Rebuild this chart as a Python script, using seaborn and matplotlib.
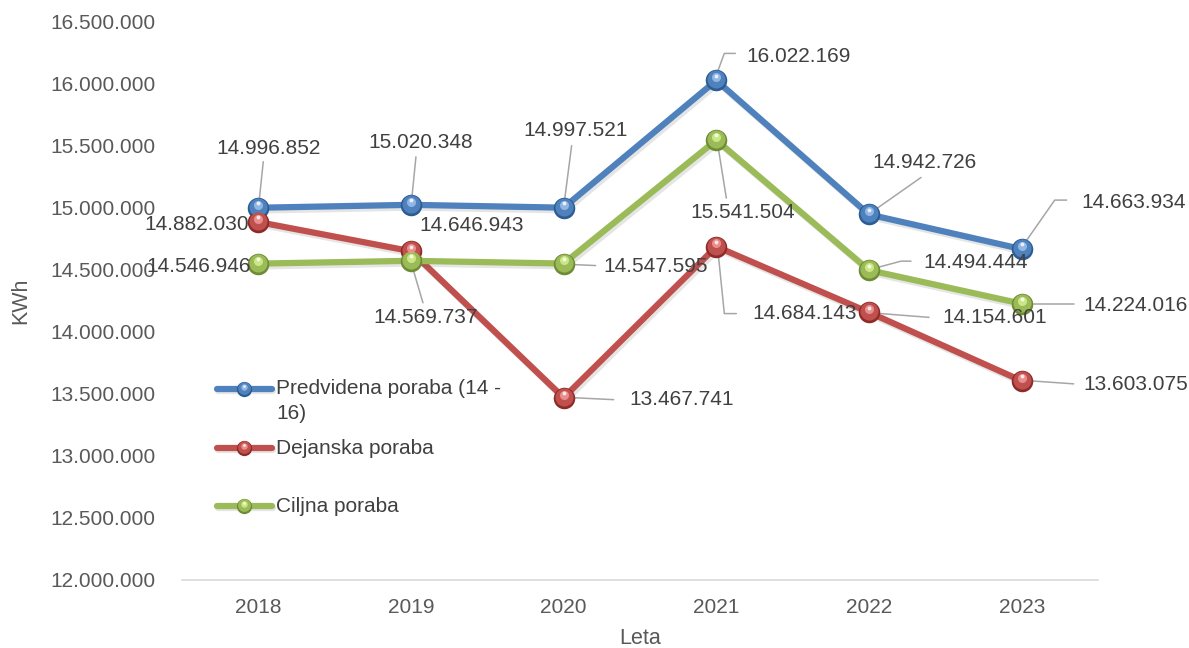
import numpy as np
import pandas as pd
import matplotlib
matplotlib.use("Agg")
import matplotlib.pyplot as plt
import matplotlib.patheffects as pe
from matplotlib.transforms import offset_copy, IdentityTransform
import seaborn as sns

# ---- data ----
years = [2018, 2019, 2020, 2021, 2022, 2023]
predvidena = [14996852, 15020348, 14997521, 16022169, 14942726, 14663934]
dejanska = [14882030, 14646943, 13467741, 14684143, 14154601, 13603075]
ciljna = [14546946, 14569737, 14547595, 15541504, 14494444, 14224016]
series_names = ["Predvidena poraba (14 - 16)", "Dejanska poraba", "Ciljna poraba"]
y_ticks = [12000000, 12500000, 13000000, 13500000, 14000000,
           14500000, 15000000, 15500000, 16000000, 16500000]

# ---- style ----
sns.set_theme(style="white")
plt.rcParams["font.family"] = ["Liberation Sans", "DejaVu Sans"]

colors = {
    series_names[0]: "#4F81BD",
    series_names[1]: "#C0504D",
    series_names[2]: "#9BBB59",
}
dark = {
    series_names[0]: "#2B5C94",
    series_names[1]: "#8E2A28",
    series_names[2]: "#6E8C33",
}
light = {
    series_names[0]: "#9CC0EA",
    series_names[1]: "#F09A98",
    series_names[2]: "#D4F08C",
}
text_col = "#404040"
tick_col = "#595959"
leader_col = "#A6A6A6"
FS = 15

df = pd.DataFrame({
    "Leto": years * 3,
    "KWh": predvidena + dejanska + ciljna,
    "Serija": [series_names[0]] * 6 + [series_names[1]] * 6 + [series_names[2]] * 6,
})

fig = plt.figure(figsize=(11.89, 6.48), dpi=100)
ax = fig.add_axes([0.153, 0.105, 0.7705, 0.8625])

sns.lineplot(data=df, x="Leto", y="KWh", hue="Serija", palette=colors,
             linewidth=4.5, legend=False, sort=False, ax=ax,
             path_effects=[pe.SimpleLineShadow(offset=(1.5, -2), alpha=0.15,
                                               shadow_color="#555555"),
                           pe.Normal()])

ax.set_xlim(years[0] - 0.5, years[-1] + 0.5)
ax.set_ylim(y_ticks[0], y_ticks[-1])
ax.set_yticks(y_ticks)
ax.set_yticklabels([f"{v:,}".replace(",", ".") for v in y_ticks])
ax.set_xticks(years)
ax.set_xticklabels([str(y) for y in years])
ax.tick_params(axis="y", length=0, pad=19, labelsize=FS, labelcolor=tick_col)
ax.tick_params(axis="x", length=0, pad=13, labelsize=FS, labelcolor=tick_col)
for s in ["top", "right", "left"]:
    ax.spines[s].set_visible(False)
ax.spines["bottom"].set_color("#D9D9D9")
ax.spines["bottom"].set_linewidth(1.2)
ax.set_xlabel("Leta", fontsize=FS + 0.5, color=tick_col, labelpad=8)
ax.set_ylabel("KWh", fontsize=FS + 0.5, color=tick_col, labelpad=14)


def sphere(xs, ys, name, transform, ms=15.5, zorder=5):
    ax.plot(xs, ys, "o", ms=ms, color=dark[name], mec="none",
            transform=transform, zorder=zorder, clip_on=False)
    t1 = offset_copy(transform, fig=fig, x=0, y=1.0, units="dots")
    ax.plot(xs, ys, "o", ms=ms * 0.84, color=colors[name], mec="none",
            transform=t1, zorder=zorder + 0.1, clip_on=False)
    t2 = offset_copy(transform, fig=fig, x=0, y=ms * 0.2, units="dots")
    ax.plot(xs, ys, "o", ms=ms * 0.42, color=light[name], mec="none", alpha=0.85,
            transform=t2, zorder=zorder + 0.2, clip_on=False)
    t3 = offset_copy(transform, fig=fig, x=0, y=ms * 0.3, units="dots")
    ax.plot(xs, ys, "o", ms=ms * 0.18, color="white", mec="none", alpha=0.8,
            transform=t3, zorder=zorder + 0.3, clip_on=False)


values = {series_names[0]: predvidena, series_names[1]: dejanska,
          series_names[2]: ciljna}
for name in series_names:
    sphere(years, values[name], name, ax.transData)

# label offsets in pixels (dx right, dy down) and leader polylines
label_layout = {
    series_names[0]: [
        ((10, -59), [(1, -8), (5, -46)]),
        ((10, -62), [(1, -8), (5, -48)]),
        ((12, -77), [(1, -8), (8, -62)]),
        ((82, -24), [(1, -8), (8, -27), (19, -27)]),
        ((55, -52), [(5, -4), (52, -37)]),
        ((112, -47), [(3, -6), (33, -49), (45, -49)]),
    ],
    series_names[1]: [
        ((-62, 2), None),
        ((61, -26), None),
        ((118, 2), [(9, 0), (50, 2)]),
        ((88, 67), [(2, 8), (8, 67), (20, 67)]),
        ((126, 5), [(9, 1), (60, 5)]),
        ((114, 4), [(9, 0), (52, 3)]),
    ],
    series_names[2]: [
        ((-60, 3), None),
        ((15, 57), [(2, 8), (12, 42)]),
        ((92, 3), [(9, 1), (32, 2)]),
        ((26, 72), [(2, 8), (10, 58)]),
        ((107, -8), [(6, -2), (32, -9), (42, -9)]),
        ((114, 2), [(9, 0), (52, 0)]),
    ],
}

fig.canvas.draw()
for name in series_names:
    for yr, v, (off, leader) in zip(years, values[name], label_layout[name]):
        px, py = ax.transData.transform((yr, v))
        if leader:
            lx = [px + a for a, b in leader]
            ly = [py - b for a, b in leader]
            ax.plot(lx, ly, color=leader_col, lw=1.1, transform=IdentityTransform(),
                    zorder=4, clip_on=False)
        ax.annotate(f"{v:,}".replace(",", "."), xy=(yr, v), xycoords="data",
                    xytext=(off[0], -off[1]), textcoords="offset pixels",
                    ha="center", va="center", fontsize=FS, color=text_col,
                    zorder=8)

# legend drawn inside the plot area
leg_rows = [(0.342, 0.320, "Predvidena poraba (14 -\n16)"),
            (0.236, 0.236, "Dejanska poraba"),
            (0.132, 0.132, "Ciljna poraba")]
for name, (yy, ty, lab) in zip(series_names, leg_rows):
    ax.plot([0.038, 0.098], [yy, yy], color=colors[name], lw=4.5,
            transform=ax.transAxes, solid_capstyle="round", zorder=5,
            path_effects=[pe.SimpleLineShadow(offset=(1, -1.5), alpha=0.15,
                                              shadow_color="#555555"), pe.Normal()])
    sphere([0.068], [yy], name, ax.transAxes, ms=11, zorder=6)
    ax.text(0.1026, ty, lab, transform=ax.transAxes, ha="left", va="center",
            fontsize=FS, color=text_col, linespacing=1.4)

fig.savefig("out.png", dpi=100)
